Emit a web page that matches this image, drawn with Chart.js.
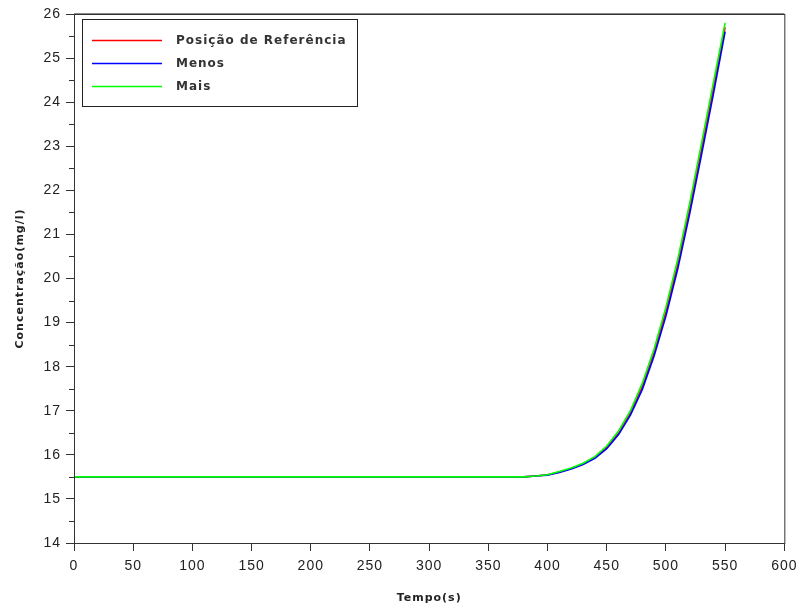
<!DOCTYPE html>
<html>
<head>
<meta charset="utf-8">
<script src="https://cdn.jsdelivr.net/npm/chart.js@4"></script>
<style>
  body { margin: 0; background: #fff; }
</style>
</head>
<body>
<canvas id="chart" width="803" height="608"></canvas>
<script>
// Time samples (s) and concentration series (mg/l)
const tempo = [0, 380, 390, 400, 410, 420, 430, 440, 450, 460, 470, 480, 490, 500, 510, 520, 530, 540, 550];
const referencia = [15.5, 15.5, 15.52, 15.55, 15.61, 15.69, 15.79, 15.94, 16.17, 16.5, 16.95, 17.55, 18.32, 19.25, 20.33, 21.58, 22.93, 24.3, 25.7];
const menos = [15.5, 15.5, 15.52, 15.54, 15.60, 15.68, 15.78, 15.92, 16.14, 16.46, 16.9, 17.48, 18.24, 19.15, 20.22, 21.46, 22.8, 24.17, 25.6];
const mais = [15.5, 15.5, 15.52, 15.55, 15.62, 15.70, 15.81, 15.96, 16.2, 16.54, 17.0, 17.62, 18.4, 19.35, 20.44, 21.7, 23.06, 24.43, 25.8];

const xTicks = { min: 0, max: 600, step: 50 };
const yTicks = { min: 14, max: 26, step: 1 };

const toPoints = vals => tempo.map((t, i) => ({ x: t, y: vals[i] }));

const AXIS_COLOR = '#333';
const FONT = 'Liberation Sans';

// Wider letter spacing for all chart text
const spacingPlugin = {
  id: 'spacing',
  beforeDraw(chart) {
    chart.ctx.letterSpacing = '1px';
  }
};

// Frame around the plot, minor y ticks and the boxed legend
const framePlugin = {
  id: 'frame',
  afterDraw(chart) {
    const { ctx, chartArea: a } = chart;
    const y = chart.scales.y;
    ctx.save();
    ctx.strokeStyle = AXIS_COLOR;
    ctx.lineWidth = 1;
    ctx.strokeRect(a.left + 0.5, a.top + 0.5, a.right - a.left, a.bottom - a.top);
    ctx.beginPath();
    ctx.moveTo(a.left, a.top - 0.5);
    ctx.lineTo(a.right, a.top - 0.5);
    ctx.strokeStyle = '#888';
    ctx.stroke();

    // minor ticks halfway between the labelled ones
    ctx.strokeStyle = AXIS_COLOR;
    ctx.beginPath();
    for (let v = y.min + yTicks.step / 2; v < y.max; v += yTicks.step) {
      const py = Math.round(y.getPixelForValue(v)) + 0.5;
      ctx.moveTo(a.left - 5, py);
      ctx.lineTo(a.left, py);
    }
    ctx.stroke();

    // legend box
    const bx = a.left + 8, by = a.top + 5, bw = 275, bh = 87;
    ctx.fillStyle = '#fff';
    ctx.fillRect(bx, by, bw, bh);
    ctx.strokeStyle = '#222';
    ctx.strokeRect(bx + 0.5, by + 0.5, bw, bh);
    ctx.font = 'bold 12px "DejaVu Sans"';
    ctx.letterSpacing = '1px';
    ctx.textBaseline = 'middle';
    chart.data.datasets.forEach((ds, i) => {
      const ly = by + 21.5 + i * 23;
      ctx.strokeStyle = ds.borderColor;
      ctx.lineWidth = 1.5;
      ctx.beginPath();
      ctx.moveTo(bx + 10, ly);
      ctx.lineTo(bx + 80, ly);
      ctx.stroke();
      ctx.fillStyle = '#333';
      ctx.fillText(ds.label, bx + 94, ly);
    });
    ctx.restore();
  }
};

new Chart(document.getElementById('chart'), {
  type: 'line',
  data: {
    datasets: [
      { label: 'Posição de Referência', data: toPoints(referencia), borderColor: '#ff0000', order: 2 },
      { label: 'Menos', data: toPoints(menos), borderColor: '#0000ff', order: 1 },
      { label: 'Mais', data: toPoints(mais), borderColor: '#00ff00', order: 0 }
    ]
  },
  options: {
    responsive: false,
    animation: false,
    layout: { padding: { top: 14, right: 16, left: 0, bottom: 0 } },
    elements: {
      point: { radius: 0 },
      line: { borderWidth: 1.6, tension: 0 }
    },
    plugins: {
      legend: { display: false },
      tooltip: { enabled: false }
    },
    scales: {
      x: {
        type: 'linear',
        min: xTicks.min,
        max: xTicks.max,
        afterFit: s => { s.height = 65; },
        ticks: { stepSize: xTicks.step, color: '#222', padding: 7, maxRotation: 0, font: { family: FONT, size: 14 } },
        grid: { drawOnChartArea: false, tickLength: 8, color: AXIS_COLOR },
        border: { color: AXIS_COLOR },
        title: { display: true, text: 'Tempo(s)', color: '#222', padding: { top: 0, bottom: 3.4 }, font: { family: 'DejaVu Sans', size: 11, weight: 'bold' } }
      },
      y: {
        min: yTicks.min,
        max: yTicks.max,
        afterFit: s => { s.width = 74; },
        ticks: { stepSize: yTicks.step, color: '#222', padding: 5, font: { family: FONT, size: 14 } },
        grid: { drawOnChartArea: false, tickLength: 8, color: AXIS_COLOR },
        border: { color: AXIS_COLOR },
        title: { display: true, text: 'Concentração(mg/l)', color: '#222', padding: { top: 13.4, bottom: 0 }, font: { family: 'DejaVu Sans', size: 11, weight: 'bold' } }
      }
    }
  },
  plugins: [spacingPlugin, framePlugin]
});
</script>
</body>
</html>
